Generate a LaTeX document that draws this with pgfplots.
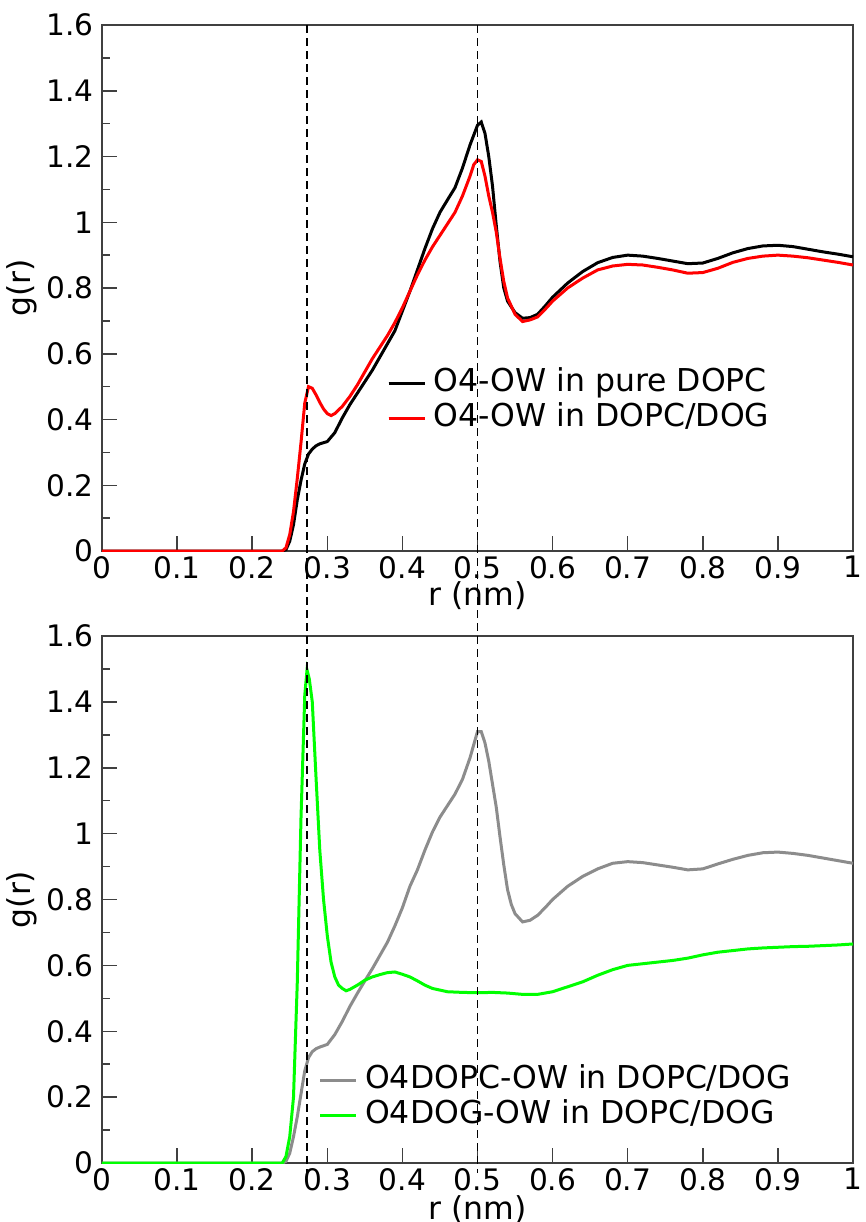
\documentclass[border=0pt]{standalone}
\usepackage{fontspec}
\setmainfont{DejaVu Sans}
\usepackage{pgfplots}
\pgfplotsset{compat=1.18}
\definecolor{grau}{RGB}{140,140,140}
\definecolor{gruen}{RGB}{0,255,0}
\pgfplotsset{
  rdf/.style={
    scale only axis, width=375.5pt,
    xmin=0, xmax=1, ymin=0, ymax=1.6,
    xtick={0,0.1,0.2,0.3,0.4,0.5,0.6,0.7,0.8,0.9,1},
    ytick={0,0.2,0.4,0.6,0.8,1,1.2,1.4,1.6},
    minor ytick={0.1,0.3,0.5,0.7,0.9,1.1,1.3,1.5},
    tick pos=left, tick align=inside,
    major tick length=7.5pt, minor tick length=4pt,
    axis line style={black!75, line width=0.75pt},
    every tick/.style={black!75, line width=0.75pt},
    /pgf/number format/assume math mode=true,
    tick label style={font=\fontsize{14.8}{17}\selectfont},
    xticklabel style={inner sep=2.5pt},
    yticklabel style={inner sep=4pt},
    label style={font=\fontsize{15.75}{18}\selectfont},
    xlabel={r (nm)}, ylabel={g(r)},
    ylabel style={at={(axis description cs:-0.1065,0.5)}, anchor=center},
    legend cell align=left,
    legend style={draw=none, fill=none, inner sep=0pt, row sep=0pt,
      font=\fontsize{15.75}{18}\selectfont,
      nodes={inner xsep=3.75pt, inner ysep=1.25pt, text height=11.5pt, text depth=3.5pt}},
    legend image code/.code={\draw[#1] (0pt,0pt) -- (15pt,0pt); \path (0pt,0pt) -- (18pt,0pt);},
    every axis plot/.append style={line width=1.5pt},
  }
}
\begin{document}
\begin{tikzpicture}
\path[use as bounding box] (0pt,0pt) rectangle (433pt,-611pt);

% upper panel
\begin{axis}[rdf, at={(51pt,-275.5pt)}, anchor=south west, height=263pt,
  xlabel style={at={(axis description cs:0.5,-0.0856)}, anchor=center},
  legend style={at={(axis description cs:0.379,0.3527)}, anchor=north west}]
\addplot[black] table {
0 0
0.24 0
0.245 0.004
0.25 0.03
0.255 0.08
0.26 0.155
0.265 0.215
0.27 0.265
0.275 0.295
0.28 0.31
0.285 0.32
0.29 0.326
0.30 0.333
0.31 0.36
0.32 0.405
0.33 0.445
0.34 0.48
0.35 0.515
0.36 0.55
0.37 0.59
0.38 0.63
0.39 0.67
0.40 0.73
0.41 0.79
0.42 0.855
0.43 0.92
0.44 0.98
0.45 1.03
0.46 1.068
0.47 1.105
0.48 1.165
0.49 1.235
0.50 1.295
0.505 1.305
0.51 1.27
0.515 1.20
0.52 1.11
0.525 0.99
0.53 0.88
0.535 0.80
0.54 0.76
0.55 0.725
0.56 0.708
0.57 0.71
0.58 0.72
0.59 0.745
0.60 0.772
0.62 0.815
0.64 0.85
0.66 0.877
0.68 0.893
0.70 0.90
0.72 0.897
0.74 0.89
0.76 0.882
0.78 0.874
0.80 0.876
0.82 0.89
0.84 0.907
0.86 0.92
0.88 0.928
0.90 0.93
0.92 0.926
0.94 0.918
0.96 0.91
0.98 0.903
1.00 0.895
};
\addlegendentry{O4-OW in pure DOPC}
\addplot[red] table {
0 0
0.24 0
0.245 0.01
0.25 0.05
0.255 0.12
0.26 0.22
0.265 0.33
0.27 0.45
0.275 0.50
0.28 0.495
0.285 0.475
0.29 0.452
0.295 0.432
0.30 0.418
0.305 0.412
0.31 0.418
0.32 0.44
0.33 0.47
0.34 0.505
0.35 0.545
0.36 0.585
0.37 0.62
0.38 0.655
0.39 0.695
0.40 0.74
0.41 0.79
0.42 0.84
0.43 0.885
0.44 0.925
0.45 0.96
0.46 0.995
0.47 1.03
0.48 1.08
0.49 1.14
0.495 1.175
0.50 1.19
0.505 1.185
0.51 1.14
0.515 1.08
0.52 1.03
0.525 0.97
0.53 0.89
0.535 0.82
0.54 0.77
0.55 0.72
0.56 0.698
0.57 0.703
0.58 0.712
0.59 0.735
0.60 0.76
0.62 0.80
0.64 0.83
0.66 0.855
0.68 0.867
0.70 0.872
0.72 0.87
0.74 0.863
0.76 0.855
0.78 0.845
0.80 0.847
0.82 0.86
0.84 0.878
0.86 0.89
0.88 0.897
0.90 0.90
0.92 0.897
0.94 0.892
0.96 0.885
0.98 0.878
1.00 0.87
};
\addlegendentry{O4-OW in DOPC/DOG}
\coordinate (A1) at (axis cs:0.273,1.6);
\coordinate (B1) at (axis cs:0.5,1.6);
\end{axis}

% lower panel
\begin{axis}[rdf, at={(51pt,-581.5pt)}, anchor=south west, height=263.5pt,
  xlabel style={at={(axis description cs:0.5,-0.089)}, anchor=center},
  legend style={at={(axis description cs:0.288,0.19)}, anchor=north west}]
\addplot[grau] table {
0 0
0.24 0
0.245 0.005
0.25 0.03
0.255 0.08
0.26 0.14
0.265 0.21
0.27 0.28
0.275 0.32
0.28 0.338
0.285 0.347
0.29 0.352
0.30 0.36
0.31 0.39
0.32 0.43
0.33 0.475
0.34 0.515
0.35 0.553
0.36 0.59
0.37 0.63
0.38 0.67
0.39 0.72
0.40 0.775
0.41 0.84
0.42 0.89
0.43 0.95
0.44 1.005
0.45 1.05
0.46 1.085
0.47 1.12
0.48 1.165
0.49 1.23
0.50 1.31
0.505 1.31
0.51 1.275
0.515 1.22
0.52 1.15
0.525 1.08
0.53 0.99
0.535 0.905
0.54 0.83
0.545 0.785
0.55 0.757
0.56 0.732
0.57 0.737
0.58 0.752
0.59 0.775
0.60 0.80
0.62 0.84
0.64 0.87
0.66 0.893
0.68 0.91
0.70 0.915
0.72 0.912
0.74 0.905
0.76 0.898
0.78 0.89
0.80 0.893
0.82 0.908
0.84 0.922
0.86 0.934
0.88 0.942
0.90 0.944
0.92 0.94
0.94 0.934
0.96 0.926
0.98 0.918
1.00 0.91
};
\addlegendentry{O4DOPC-OW in DOPC/DOG}
\addplot[gruen] table {
0 0
0.24 0
0.245 0.02
0.25 0.08
0.255 0.2
0.26 0.546
0.265 1.05
0.27 1.42
0.273 1.497
0.276 1.47
0.28 1.40
0.285 1.17
0.29 0.95
0.295 0.80
0.30 0.69
0.305 0.61
0.31 0.565
0.315 0.54
0.32 0.53
0.325 0.523
0.33 0.527
0.34 0.54
0.35 0.555
0.36 0.565
0.37 0.572
0.38 0.578
0.39 0.58
0.40 0.573
0.41 0.565
0.42 0.553
0.43 0.54
0.44 0.53
0.45 0.525
0.46 0.52
0.48 0.518
0.50 0.517
0.52 0.518
0.54 0.516
0.56 0.512
0.58 0.512
0.60 0.52
0.62 0.535
0.64 0.55
0.66 0.57
0.68 0.587
0.70 0.60
0.72 0.605
0.74 0.61
0.76 0.615
0.78 0.622
0.80 0.632
0.82 0.64
0.84 0.645
0.86 0.65
0.88 0.653
0.90 0.655
0.92 0.657
0.94 0.658
0.96 0.66
0.98 0.662
1.00 0.665
};
\addlegendentry{O4DOG-OW in DOPC/DOG}
\coordinate (A2) at (axis cs:0.273,-0.03);
\coordinate (B2) at (axis cs:0.5,-0.03);
\end{axis}

\draw[black, line width=0.75pt, dash pattern=on 4pt off 2.5pt] (A1) -- (A2);
\draw[black, line width=0.75pt, dash pattern=on 4pt off 2.5pt] (B1) -- (B2);
\end{tikzpicture}
\end{document}
